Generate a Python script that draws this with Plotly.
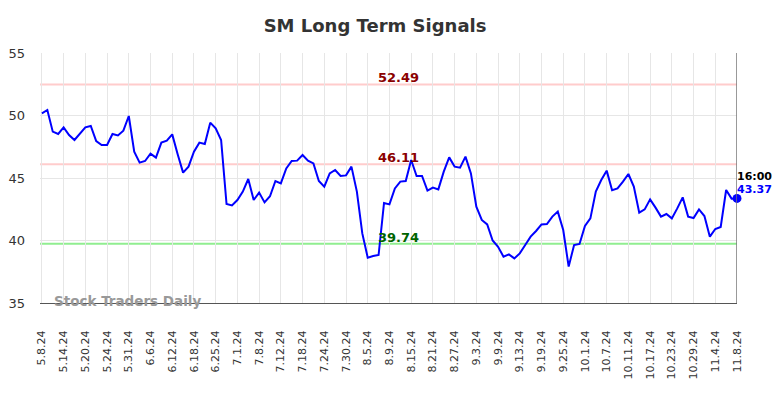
import plotly.graph_objects as go

dates = [
    "5.8.24","5.9.24","5.10.24","5.13.24","5.14.24","5.15.24","5.16.24","5.17.24","5.20.24","5.21.24",
    "5.22.24","5.23.24","5.24.24","5.28.24","5.29.24","5.30.24","5.31.24",
    "6.3.24","6.4.24","6.5.24","6.6.24","6.7.24","6.10.24","6.11.24","6.12.24","6.13.24","6.14.24",
    "6.17.24","6.18.24","6.20.24","6.21.24","6.24.24","6.25.24","6.26.24","6.27.24","6.28.24",
    "7.1.24","7.2.24","7.3.24","7.5.24","7.8.24","7.9.24","7.10.24","7.11.24","7.12.24","7.15.24",
    "7.16.24","7.17.24","7.18.24","7.19.24","7.22.24","7.23.24","7.24.24","7.25.24","7.26.24",
    "7.29.24","7.30.24","7.31.24",
    "8.1.24","8.2.24","8.5.24","8.6.24","8.7.24","8.8.24","8.9.24","8.12.24","8.13.24","8.14.24",
    "8.15.24","8.16.24","8.19.24","8.20.24","8.21.24","8.22.24","8.23.24","8.26.24","8.27.24",
    "8.28.24","8.29.24","8.30.24",
    "9.3.24","9.4.24","9.5.24","9.6.24","9.9.24","9.10.24","9.11.24","9.12.24","9.13.24","9.16.24",
    "9.17.24","9.18.24","9.19.24","9.20.24","9.23.24","9.24.24","9.25.24","9.26.24","9.27.24","9.30.24",
    "10.1.24","10.2.24","10.3.24","10.4.24","10.7.24","10.8.24","10.9.24","10.10.24","10.11.24",
    "10.14.24","10.15.24","10.16.24","10.17.24","10.18.24","10.21.24","10.22.24","10.23.24",
    "10.24.24","10.25.24","10.28.24","10.29.24","10.30.24","10.31.24",
    "11.1.24","11.4.24","11.5.24","11.6.24","11.7.24","11.8.24",
]

values = [
    50.17, 50.44, 48.71, 48.52, 49.05, 48.44, 48.04, 48.52, 49.05, 49.16,
    47.96, 47.64, 47.64, 48.52, 48.41, 48.79, 49.96, 47.11, 46.23, 46.36,
    46.95, 46.63, 47.83, 47.99, 48.49, 46.90, 45.43, 45.91, 47.11, 47.83,
    47.72, 49.43, 48.97, 48.04, 42.92, 42.81, 43.24, 43.91, 44.92, 43.24,
    43.83, 43.05, 43.54, 44.76, 44.57, 45.77, 46.36, 46.39, 46.84, 46.39,
    46.17, 44.76, 44.31, 45.37, 45.64, 45.16, 45.21, 45.91, 43.91, 40.57,
    38.63, 38.76, 38.84, 43.00, 42.89, 44.17, 44.71, 44.76, 46.44, 45.16,
    45.16, 43.99, 44.23, 44.09, 45.51, 46.65, 45.91, 45.83, 46.71, 45.37,
    42.71, 41.64, 41.29, 40.00, 39.50, 38.71, 38.89, 38.57, 38.97, 39.64,
    40.31, 40.76, 41.29, 41.32, 41.91, 42.31, 40.84, 37.91, 39.64, 39.72,
    41.16, 41.77, 43.91, 44.84, 45.59, 44.02, 44.17, 44.71, 45.32, 44.31,
    42.23, 42.49, 43.29, 42.63, 41.91, 42.12, 41.77, 42.57, 43.45, 41.91,
    41.80, 42.49, 41.96, 40.31, 40.92, 41.08, 44.04, 43.35, 43.37,
]

tick_labels = dates[::4]
upper_levels = [52.49, 46.11]
lower_levels = [39.74]
y_ticks = [35, 40, 45, 50, 55]
last_time = "16:00"

FONT = "DejaVu Sans"

fig = go.Figure()
fig.add_trace(go.Scatter(
    x=dates, y=values, mode="lines",
    line=dict(color="#0000ff", width=2), hoverinfo="skip", showlegend=False,
))
fig.add_trace(go.Scatter(
    x=[dates[-1]], y=[values[-1]], mode="markers", cliponaxis=False,
    marker=dict(color="#0000ff", size=9), showlegend=False,
))

for lv in upper_levels:
    fig.add_hline(y=lv, line=dict(color="#ffcccc", width=2), layer="below")
    fig.add_annotation(x=0.515, xref="paper", y=lv, yref="y", text=f"<b>{lv:.2f}</b>",
                       showarrow=False, yanchor="bottom", yshift=-3,
                       font=dict(family=FONT, size=13, color="#8b0000"))
for lv in lower_levels:
    fig.add_hline(y=lv, line=dict(color="#90ee90", width=2), layer="below")
    fig.add_annotation(x=0.515, xref="paper", y=lv, yref="y", text=f"<b>{lv:.2f}</b>",
                       showarrow=False, yanchor="bottom", yshift=-3,
                       font=dict(family=FONT, size=13, color="#006400"))

# right boundary line at the last session
fig.add_shape(type="line", xref="x", yref="paper", x0=dates[-1], x1=dates[-1], y0=0, y1=1,
              line=dict(color="#777777", width=1.5))

fig.add_annotation(x=dates[-1], y=values[-1], text=f"<b>{last_time}</b>", showarrow=False,
                   xanchor="left", yanchor="bottom", xshift=-2, yshift=13,
                   font=dict(family=FONT, size=11, color="#000000"))
fig.add_annotation(x=dates[-1], y=values[-1], text=f"<b>{values[-1]:.2f}</b>", showarrow=False,
                   xanchor="left", yanchor="bottom", xshift=-2, yshift=0,
                   font=dict(family=FONT, size=11, color="#0000ff"))

fig.add_annotation(x=0.017, xref="paper", y=0, yref="paper", text="<b>Stock Traders Daily</b>",
                   showarrow=False, xanchor="left", yanchor="bottom", yshift=-8,
                   font=dict(family=FONT, size=13.5, color="#999999"))

fig.update_layout(
    width=776, height=390,
    margin=dict(l=32, r=47, t=45, b=95, autoexpand=False),
    paper_bgcolor="white", plot_bgcolor="white",
    title=dict(text="<b>SM Long Term Signals</b>", x=0.473, xanchor="center", y=0.954, yanchor="middle",
               font=dict(family=FONT, size=18, color="#333333")),
    font=dict(family=FONT, color="#333333"),
    xaxis=dict(
        type="category", range=[-0.35, len(dates) - 1],
        tickmode="array", tickvals=tick_labels, ticktext=tick_labels,
        tickangle=-90, tickfont=dict(family=FONT, size=11, color="#333333"),
        showgrid=True, gridcolor="#e6e6e6", gridwidth=1,
        showline=True, linecolor="#555555", linewidth=1,
        ticks="", ticklabelstandoff=22, zeroline=False, automargin=False,
    ),
    yaxis=dict(
        range=[35, 55], tickvals=y_ticks,
        tickfont=dict(family=FONT, size=13, color="#333333"),
        showgrid=True, gridcolor="#e6e6e6", gridwidth=1,
        zeroline=False, ticks="", ticklabelstandoff=14, automargin=False,
    ),
)

fig.write_html("out.html")
